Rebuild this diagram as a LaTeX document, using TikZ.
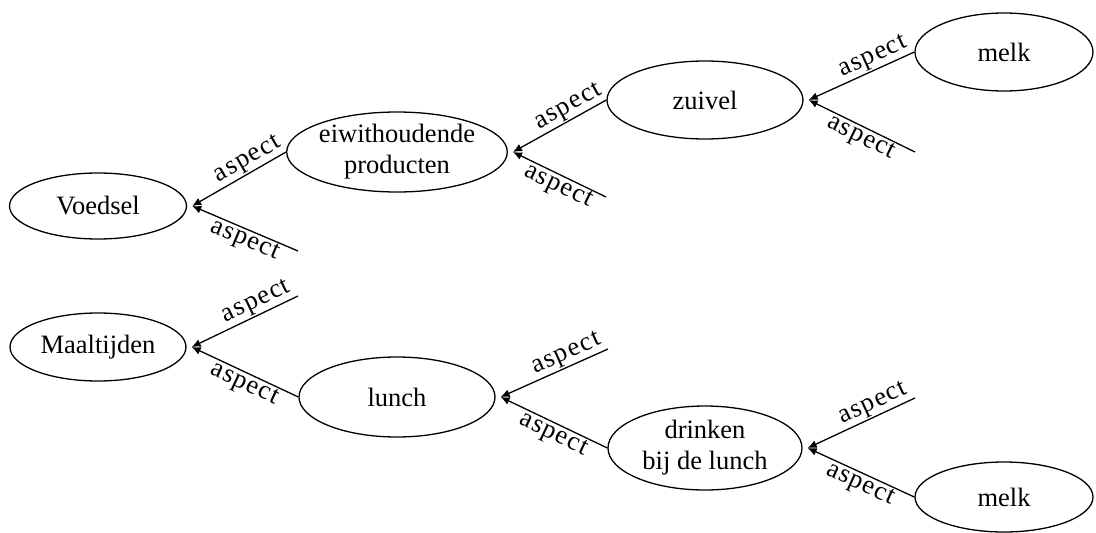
\documentclass[tikz,border=0pt]{standalone}
\usepackage{fontspec}
\setmainfont{Liberation Serif}
\usetikzlibrary{shapes.geometric,arrows.meta}
\begin{document}
\begin{tikzpicture}[x=1pt,y=-1pt,line width=1.3pt]

    % let's define some key values
    \def\tipgap{5pt}
    \def\yfood{206}
    \def\ymeal{347}

    % Styles
    \tikzstyle{concept}=[ellipse, draw, inner sep=0pt, align=center, font=\fontsize{26.5}{31}\selectfont]
    \tikzstyle{aspectline}=[-{Latex[length=9pt,width=8pt]}]
    \tikzstyle{aspectname}=[sloped, inner sep=1pt, font=\fontsize{26.5}{26.5}\selectfont\addfontfeature{LetterSpace=5}]

    \useasboundingbox (0,0) rectangle (1096,533);

    % food tree
    \node[concept, minimum width=177pt, minimum height=66pt] (voedsel) at (98,\yfood) {Voedsel};
    \node[concept, minimum width=197pt, minimum height=80pt] (eiwit) at (397,152) {eiwithoudende\\producten};
    \node[concept, minimum width=196pt, minimum height=78pt] (zuivel) at (705,100) {zuivel};
    \node[concept, minimum width=178pt, minimum height=78pt] (melkA) at (1004,52) {melk};

    % meal tree
    \node[concept, minimum width=176pt, minimum height=68pt] (maaltijden) at (98,\ymeal) {Maaltijden};
    \node[concept, minimum width=196pt, minimum height=80pt] (lunch) at (397,397) {lunch};
    \node[concept, minimum width=194pt, minimum height=84pt] (drinken) at (705,448) {drinken\\bij de lunch};
    \node[concept, minimum width=178pt, minimum height=70pt] (melkB) at (1004,497) {melk};

    % arrow targets
    \coordinate (voedselin) at ([xshift=\tipgap]voedsel.east);
    \coordinate (eiwitin) at ([xshift=\tipgap]eiwit.east);
    \coordinate (zuivelin) at ([xshift=\tipgap]zuivel.east);
    \coordinate (maaltijdenin) at ([xshift=\tipgap]maaltijden.east);
    \coordinate (lunchin) at ([xshift=\tipgap]lunch.east);
    \coordinate (drinkenin) at ([xshift=\tipgap]drinken.east);

    % loose ends
    \coordinate (voedselfree) at (298,251);
    \coordinate (eiwitfree) at (606,197);
    \coordinate (zuivelfree) at (915,152);
    \coordinate (maaltijdenfree) at (298,296);
    \coordinate (lunchfree) at (608,349);
    \coordinate (drinkenfree) at (915,398);

    % aspects of Voedsel
    \draw[aspectline] (eiwit.west) -- node[aspectname, above, pos=0.34] {aspect} (voedselin);
    \draw[aspectline] (voedselfree) -- node[aspectname, below, pos=0.46] {aspect} (voedselin);
    % aspects of eiwithoudende producten
    \draw[aspectline] (zuivel.west) -- node[aspectname, above, pos=0.34] {aspect} (eiwitin);
    \draw[aspectline] (eiwitfree) -- node[aspectname, below, pos=0.46] {aspect} (eiwitin);
    % aspects of zuivel
    \draw[aspectline] (melkA.west) -- node[aspectname, above, pos=0.34] {aspect} (zuivelin);
    \draw[aspectline] (zuivelfree) -- node[aspectname, below, pos=0.46] {aspect} (zuivelin);

    % aspects of Maaltijden
    \draw[aspectline] (maaltijdenfree) -- node[aspectname, above, pos=0.34] {aspect} (maaltijdenin);
    \draw[aspectline] (lunch.west) -- node[aspectname, below, pos=0.46] {aspect} (maaltijdenin);
    % aspects of lunch
    \draw[aspectline] (lunchfree) -- node[aspectname, above, pos=0.34] {aspect} (lunchin);
    \draw[aspectline] (drinken.west) -- node[aspectname, below, pos=0.46] {aspect} (lunchin);
    % aspects of drinken bij de lunch
    \draw[aspectline] (drinkenfree) -- node[aspectname, above, pos=0.34] {aspect} (drinkenin);
    \draw[aspectline] (melkB.west) -- node[aspectname, below, pos=0.46] {aspect} (drinkenin);

\end{tikzpicture}
\end{document}
